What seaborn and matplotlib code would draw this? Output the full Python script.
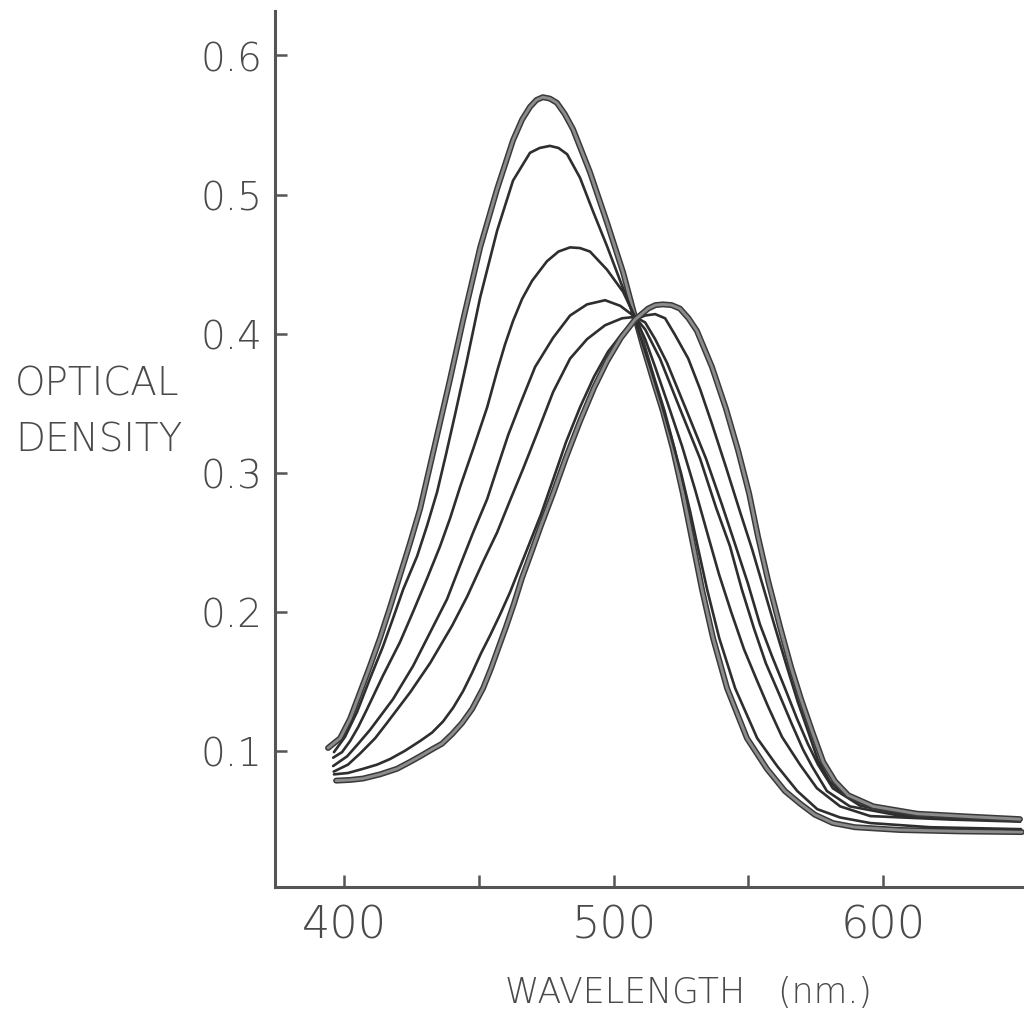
import matplotlib
matplotlib.use("Agg")
import pandas as pd
import matplotlib.pyplot as plt
import seaborn as sns

# wavelength (nm) and optical density
wl_a = [393.9, 398.4, 402.1, 405.8, 409.5, 413.2, 416.9, 420.6, 424.3, 428.1, 431.8, 435.5, 439.2, 444.1,
        450.4, 456.7, 462.6, 466.0, 468.9, 471.3, 473.7, 476.3, 478.9, 481.8, 484.9, 491.2, 497.5, 503.5,
        507.9, 510.9, 514.6, 518.3, 522.0, 525.7, 529.1, 532.8, 536.9, 542.1, 549.5, 556.9, 563.6, 569.2,
        574.7, 581.4, 589.6, 606.3, 628.6, 651.6]
od_a = [0.102, 0.109, 0.123, 0.142, 0.161, 0.181, 0.203, 0.226, 0.249, 0.274, 0.305, 0.336, 0.367, 0.410,
        0.462, 0.504, 0.539, 0.554, 0.563, 0.568, 0.570, 0.569, 0.566, 0.558, 0.547, 0.516, 0.480, 0.444,
        0.412, 0.391, 0.367, 0.344, 0.317, 0.285, 0.252, 0.216, 0.181, 0.145, 0.109, 0.087, 0.071, 0.062,
        0.054, 0.048, 0.045, 0.043, 0.042, 0.0415]

wl_b = [396.1, 400.2, 404.7, 409.5, 414.3, 418.0, 421.8, 427.0, 430.7, 434.4, 437.7, 441.1, 445.2, 450.4,
        456.7, 462.6, 468.9, 472.5, 476.3, 479.5, 482.7, 487.5, 492.3, 497.5, 502.4, 507.2, 510.2, 513.9,
        517.6, 521.3, 525.1, 528.4, 531.4, 534.7, 539.2, 545.1, 553.3, 560.7, 568.2, 575.6, 584.1, 595.3,
        617.5, 651.3]
od_b = [0.099, 0.110, 0.128, 0.152, 0.175, 0.195, 0.216, 0.240, 0.262, 0.286, 0.313, 0.342, 0.378, 0.426,
        0.474, 0.510, 0.530, 0.5335, 0.535, 0.5335, 0.529, 0.512, 0.488, 0.463, 0.438, 0.414, 0.396, 0.374,
        0.351, 0.326, 0.299, 0.272, 0.245, 0.216, 0.181, 0.145, 0.109, 0.089, 0.071, 0.058, 0.052, 0.048,
        0.045, 0.0436]

wl_c = [395.8, 399.1, 402.1, 405.1, 408.4, 414.3, 420.6, 425.5, 430.7, 435.5, 439.2, 443.0, 447.8, 453.0,
        456.7, 459.6, 462.6, 466.0, 469.7, 475.2, 479.5, 483.8, 487.5, 491.2, 497.5, 503.5, 507.9, 511.7,
        515.4, 520.2, 525.4, 530.2, 534.7, 539.1, 543.6, 548.4, 552.9, 557.3, 562.5, 569.2, 575.5, 584.1,
        595.3, 625.0, 651.0]
od_c = [0.095, 0.099, 0.107, 0.117, 0.130, 0.154, 0.178, 0.200, 0.224, 0.247, 0.267, 0.290, 0.317, 0.347,
        0.373, 0.392, 0.409, 0.425, 0.438, 0.452, 0.459, 0.462, 0.4615, 0.459, 0.446, 0.430, 0.412, 0.396,
        0.376, 0.349, 0.319, 0.288, 0.257, 0.227, 0.200, 0.173, 0.152, 0.132, 0.110, 0.090, 0.073, 0.060,
        0.053, 0.0505, 0.049]

wl_d = [395.8, 401.0, 405.1, 409.5, 418.0, 425.5, 431.8, 438.1, 442.9, 447.8, 453.0, 456.7, 460.8, 465.2,
        470.8, 477.5, 483.8, 490.1, 496.8, 502.4, 507.9, 511.7, 517.2, 524.6, 532.1, 538.0, 543.2, 547.6,
        552.1, 556.5, 561.4, 566.2, 570.3, 573.6, 579.2, 587.7, 606.3, 628.6, 650.9]
od_d = [0.089, 0.096, 0.105, 0.115, 0.137, 0.161, 0.185, 0.209, 0.233, 0.257, 0.281, 0.303, 0.327, 0.349,
        0.376, 0.397, 0.413, 0.421, 0.424, 0.420, 0.412, 0.403, 0.382, 0.346, 0.310, 0.275, 0.247, 0.216,
        0.188, 0.163, 0.141, 0.119, 0.101, 0.089, 0.071, 0.060, 0.0533, 0.0511, 0.0494]

wl_e = [396.0, 401.3, 405.8, 411.4, 415.8, 424.4, 431.8, 440.0, 445.6, 451.5, 456.7, 461.5, 466.4, 471.9,
        477.5, 483.8, 490.1, 496.8, 503.1, 507.9, 511.7, 515.4, 519.8, 527.2, 534.3, 540.2, 545.0, 549.9,
        554.3, 558.8, 563.6, 568.1, 572.1, 575.9, 581.4, 591.5, 606.3, 628.6, 650.9]
od_e = [0.085, 0.090, 0.098, 0.109, 0.120, 0.142, 0.163, 0.190, 0.211, 0.236, 0.257, 0.280, 0.303, 0.330,
        0.358, 0.382, 0.396, 0.406, 0.411, 0.412, 0.408, 0.396, 0.379, 0.344, 0.310, 0.277, 0.249, 0.220,
        0.191, 0.168, 0.145, 0.123, 0.105, 0.090, 0.073, 0.0605, 0.0547, 0.0519, 0.0497]

wl_f = [396.1, 401.3, 406.9, 412.1, 416.9, 422.5, 428.1, 432.5, 436.6, 440.4, 444.1, 447.4, 450.7, 454.1,
        457.8, 461.5, 465.2, 468.9, 473.0, 477.5, 482.3, 487.5, 492.7, 497.9, 503.1, 507.9, 511.7, 515.4,
        519.1, 522.8, 527.7, 532.1, 536.5, 541.7, 546.9, 551.4, 555.5, 559.9, 564.4, 568.4, 572.2, 575.9,
        580.3, 584.8, 594.1, 612.7, 632.4, 650.9]
od_f = [0.083, 0.084, 0.087, 0.090, 0.094, 0.100, 0.107, 0.113, 0.121, 0.131, 0.143, 0.156, 0.170, 0.183,
        0.198, 0.214, 0.232, 0.250, 0.270, 0.295, 0.322, 0.347, 0.369, 0.387, 0.400, 0.410, 0.413, 0.414,
        0.411, 0.399, 0.382, 0.360, 0.335, 0.304, 0.272, 0.245, 0.218, 0.189, 0.160, 0.135, 0.114, 0.093,
        0.078, 0.069, 0.060, 0.0547, 0.0522, 0.0504]

wl_g = [396.9, 402.1, 406.9, 413.2, 419.5, 424.4, 428.1, 432.5, 436.2, 440.0, 443.7, 447.4, 451.5, 454.4,
        457.0, 460.0, 463.0, 465.9, 469.3, 473.0, 477.5, 482.3, 487.5, 492.7, 497.5, 502.7, 507.9, 512.8,
        515.5, 518.3, 521.5, 524.6, 527.8, 530.9, 536.5, 541.7, 546.2, 550.3, 553.6, 557.4, 561.8, 565.9,
        569.6, 573.7, 577.8, 582.2, 587.1, 596.4, 612.7, 632.4, 650.9]
od_g = [0.0785, 0.079, 0.080, 0.083, 0.087, 0.092, 0.096, 0.101, 0.105, 0.112, 0.120, 0.130, 0.145, 0.159,
        0.173, 0.189, 0.206, 0.224, 0.242, 0.262, 0.285, 0.311, 0.337, 0.361, 0.380, 0.397, 0.410, 0.418,
        0.4205, 0.421, 0.4205, 0.418, 0.411, 0.402, 0.376, 0.346, 0.316, 0.285, 0.254, 0.222, 0.189, 0.160,
        0.137, 0.114, 0.092, 0.078, 0.068, 0.060, 0.0547, 0.0526, 0.0508]

curves = {"a": (wl_a, od_a), "b": (wl_b, od_b), "c": (wl_c, od_c), "d": (wl_d, od_d),
          "e": (wl_e, od_e), "f": (wl_f, od_f), "g": (wl_g, od_g)}
thick = ["a", "g"]

x_ticks = [400, 450, 500, 550, 600]
x_labels = ["400", "", "500", "", "600"]
y_ticks = [0.1, 0.2, 0.3, 0.4, 0.5, 0.6]
y_labels = ["0.1", "0.2", "0.3", "0.4", "0.5", "0.6"]

sns.set_theme(style="white")
plt.rcParams["font.family"] = ["DejaVu Sans"]
plt.rcParams["font.weight"] = "light"

frames = []
for name, (wl, od) in curves.items():
    frames.append(pd.DataFrame({"wavelength": wl, "od": od, "curve": name}))
df = pd.concat(frames, ignore_index=True)

fig = plt.figure(figsize=(10.24, 10.2), dpi=100)
ax = fig.add_axes([275 / 1024, 132 / 1020, 749 / 1024, 876 / 1020])

line_kw = dict(estimator=None, sort=False, solid_capstyle="round", solid_joinstyle="round")
for name in curves:
    sub = df[df["curve"] == name]
    if name in thick:
        sns.lineplot(data=sub, x="wavelength", y="od", ax=ax, color="#3a3a3a", linewidth=4.3, **line_kw)
        sns.lineplot(data=sub, x="wavelength", y="od", ax=ax, color="#8c8c8c", linewidth=2.1, **line_kw)
    else:
        sns.lineplot(data=sub, x="wavelength", y="od", ax=ax, color="#2e2e2e", linewidth=1.9, **line_kw)

ax.set_xlim(374.2, 652.4)
ax.set_ylim(0.002, 0.632)
ax.set_xticks(x_ticks)
ax.set_xticklabels(x_labels)
ax.set_yticks(y_ticks)
ax.set_yticklabels(y_labels)
ax.set_xlabel("")
ax.set_ylabel("")

for side in ["top", "right"]:
    ax.spines[side].set_visible(False)
for side in ["left", "bottom"]:
    ax.spines[side].set_color("#555555")
    ax.spines[side].set_linewidth(2.2)

ax.tick_params(axis="both", direction="in", length=8.5, width=1.8, color="#555555",
               labelcolor="#4a4a4a", bottom=True, left=True)
ax.tick_params(axis="x", labelsize=32, pad=12)
ax.tick_params(axis="y", labelsize=28, pad=9)

fig.text(15 / 1024, 1 - 385 / 1020, "OPTICAL", ha="left", va="center", fontsize=28, color="#4a4a4a")
fig.text(15 / 1024, 1 - 440 / 1020, "DENSITY", ha="left", va="center", fontsize=28, color="#4a4a4a")
fig.text(505 / 1024, 1 - 993 / 1020, "WAVELENGTH   (nm.)", ha="left", va="center", fontsize=25,
         color="#4a4a4a")

fig.savefig("out.png", dpi=100)
